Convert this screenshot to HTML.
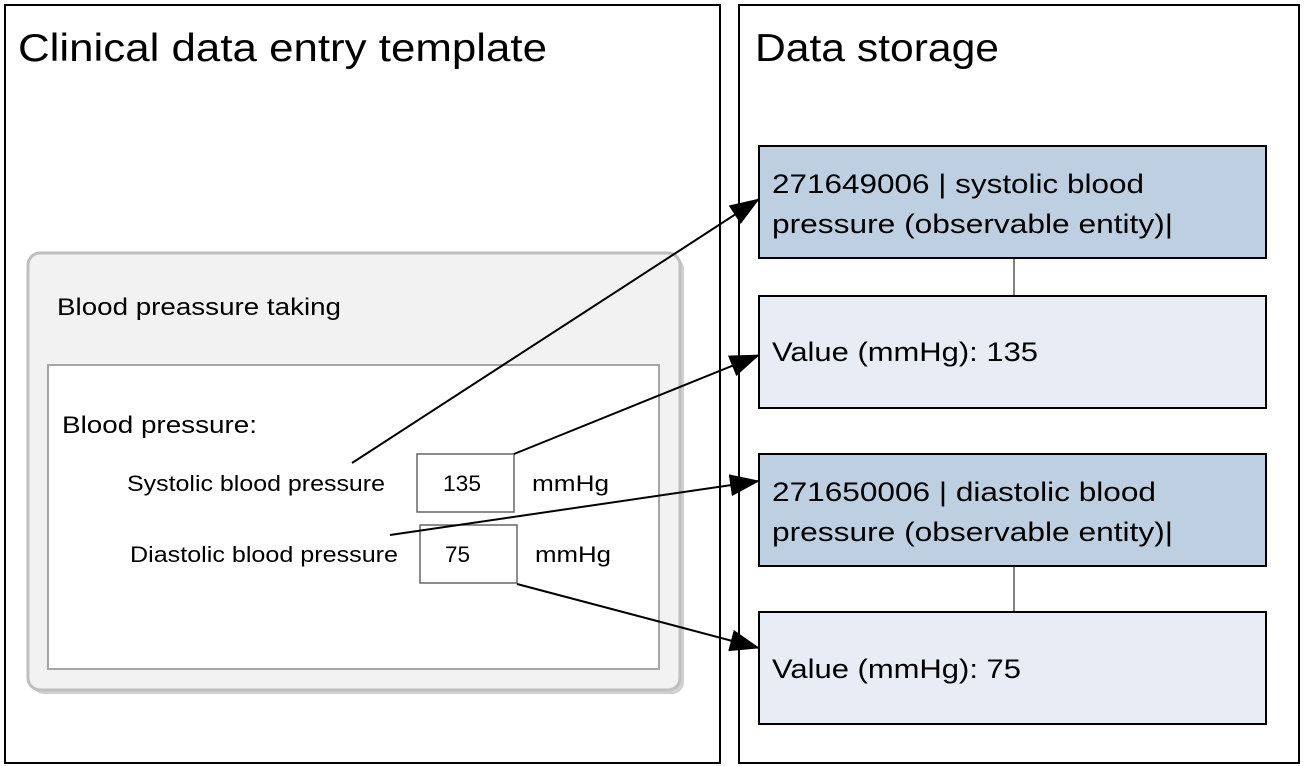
<!DOCTYPE html>
<html><head><meta charset="utf-8"><style>
html,body{margin:0;padding:0;background:#fff}
svg{display:block}
text{font-family:"Liberation Sans",sans-serif;fill:#000}
</style></head><body>
<svg width="1304" height="766" viewBox="0 0 1304 766">
<defs>
<marker id="b" markerWidth="30" markerHeight="22" refX="29" refY="11" orient="auto" markerUnits="userSpaceOnUse" viewBox="0 0 30 22">
<path d="M0,0 L30,11 L0,22 z" fill="#000"/>
</marker>
</defs>
<rect x="5" y="5" width="715" height="758" fill="#fff" stroke="#000" stroke-width="2"/>
<rect x="739" y="5" width="560" height="758" fill="#fff" stroke="#000" stroke-width="2"/>
<text x="18" y="61" font-size="39" textLength="529" lengthAdjust="spacingAndGlyphs">Clinical data entry template</text>
<text x="755" y="61" font-size="39" textLength="244" lengthAdjust="spacingAndGlyphs">Data storage</text>

<rect x="32" y="257" width="652" height="437" rx="12" fill="#d0d0d0"/>
<rect x="28" y="253" width="652" height="437" rx="12" fill="#f2f2f2" stroke="#bfbfbf" stroke-width="3"/>
<rect x="48" y="365" width="611" height="304" fill="#fff" stroke="#a6a6a6" stroke-width="2"/>
<text x="57" y="315" font-size="24" textLength="284" lengthAdjust="spacingAndGlyphs">Blood preassure taking</text>
<text x="62" y="433" font-size="24" textLength="195" lengthAdjust="spacingAndGlyphs">Blood pressure:</text>
<text x="127" y="491" font-size="22" textLength="258" lengthAdjust="spacingAndGlyphs">Systolic blood pressure</text>
<rect x="417" y="454" width="97" height="58" fill="#fff" stroke="#666" stroke-width="1.5"/>
<text x="443" y="491" font-size="22" textLength="38" lengthAdjust="spacingAndGlyphs">135</text>
<text x="532" y="491" font-size="22" textLength="77" lengthAdjust="spacingAndGlyphs">mmHg</text>
<text x="130" y="562" font-size="22" textLength="268" lengthAdjust="spacingAndGlyphs">Diastolic blood pressure</text>
<rect x="420" y="525" width="97" height="58" fill="#fff" stroke="#666" stroke-width="1.5"/>
<text x="445" y="562" font-size="22" textLength="25" lengthAdjust="spacingAndGlyphs">75</text>
<text x="535" y="562" font-size="22" textLength="76" lengthAdjust="spacingAndGlyphs">mmHg</text>

<line x1="1014" y1="258" x2="1014" y2="296" stroke="#000" stroke-width="1"/>
<line x1="1014" y1="566" x2="1014" y2="612" stroke="#000" stroke-width="1"/>
<rect x="759" y="146" width="507" height="112" fill="#bdcfe1" stroke="#000" stroke-width="2"/>
<rect x="759" y="296" width="507" height="112" fill="#e8edf5" stroke="#000" stroke-width="2"/>
<rect x="759" y="454" width="507" height="112" fill="#bdcfe1" stroke="#000" stroke-width="2"/>
<rect x="759" y="612" width="507" height="112" fill="#e8edf5" stroke="#000" stroke-width="2"/>
<text x="772" y="193" font-size="27" textLength="372" lengthAdjust="spacingAndGlyphs">271649006 | systolic blood</text>
<text x="772" y="233" font-size="27" textLength="401" lengthAdjust="spacingAndGlyphs">pressure (observable entity)|</text>
<text x="772" y="361" font-size="27" textLength="266" lengthAdjust="spacingAndGlyphs">Value (mmHg): 135</text>
<text x="772" y="501" font-size="27" textLength="384" lengthAdjust="spacingAndGlyphs">271650006 | diastolic blood</text>
<text x="772" y="541" font-size="27" textLength="401" lengthAdjust="spacingAndGlyphs">pressure (observable entity)|</text>
<text x="772" y="678" font-size="27" textLength="249" lengthAdjust="spacingAndGlyphs">Value (mmHg): 75</text>

<g stroke="#000" stroke-width="2" fill="none">
<line x1="352" y1="463" x2="759" y2="199" marker-end="url(#b)"/>
<line x1="514" y1="454" x2="759" y2="355" marker-end="url(#b)"/>
<line x1="390" y1="535" x2="759" y2="481" marker-end="url(#b)"/>
<line x1="517" y1="584" x2="759" y2="648" marker-end="url(#b)"/>
</g>
</svg>
</body></html>
